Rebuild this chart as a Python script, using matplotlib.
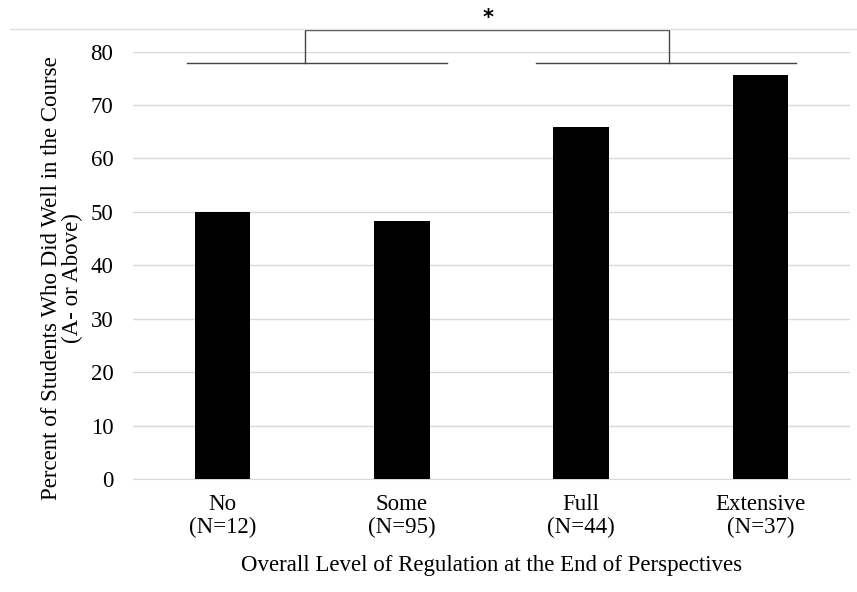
import matplotlib.pyplot as plt
import numpy as np

plt.rcParams['font.family'] = ['Liberation Serif', 'DejaVu Serif']

categories = ['No\n(N=12)', 'Some\n(N=95)', 'Full\n(N=44)', 'Extensive\n(N=37)']
percent_well = [50.0, 48.3, 65.9, 75.6]
y_ticks = [0, 10, 20, 30, 40, 50, 60, 70, 80]

fig = plt.figure(figsize=(8.57, 5.92), dpi=100)
ax = fig.add_axes([0.155, 0.191, 0.837, 0.722])
x = np.arange(len(categories))
ax.bar(x, percent_well, width=0.31, color='black', zorder=3)

ax.set_xlim(-0.5, 3.5)
ax.set_ylim(0, 80)
ax.set_yticks(y_ticks)
ax.set_xticks(x)
ax.set_xticklabels(categories, fontsize=16.5, linespacing=1.1)
ax.tick_params(axis='both', length=0, labelsize=16.5)
ax.tick_params(axis='x', pad=11)
ax.tick_params(axis='y', pad=14)
ax.yaxis.grid(True, color='#d9d9d9', linewidth=1, zorder=0)
for s in ['top', 'right', 'left']:
    ax.spines[s].set_visible(False)
ax.spines['bottom'].set_color('#d9d9d9')

ax.set_ylabel('Percent of Students Who Did Well in the Course\n(A- or Above)',
              fontsize=16.5, linespacing=0.95)
ax.yaxis.set_label_coords(-0.07, 0.47)
ax.set_xlabel('Overall Level of Regulation at the End of Perspectives',
              fontsize=16.5, labelpad=12)

# significance bracket
lc = '#444444'
ax.plot([-0.2, 1.25], [77.8, 77.8], color=lc, lw=1, clip_on=False)
ax.plot([1.75, 3.2], [77.8, 77.8], color=lc, lw=1, clip_on=False)
ax.plot([0.46, 0.46, 2.49, 2.49], [77.8, 84.0, 84.0, 77.8], color=lc, lw=1,
        clip_on=False)
ax.text(1.48, 84.4, '*', ha='center', va='bottom', fontsize=15,
        fontweight='bold', family='DejaVu Sans')

# light frame line at the top
fig.add_artist(plt.Line2D([0.012, 1.0], [0.951, 0.951], color='#e0e0e0', lw=1))

fig.savefig('out.png', dpi=100)
